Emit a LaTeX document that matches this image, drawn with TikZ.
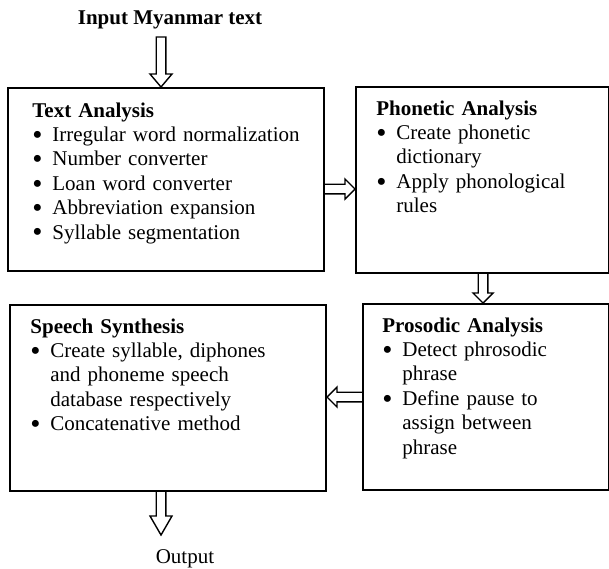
\documentclass[tikz,border=0pt]{standalone}
\usepackage{fontspec}
\setmainfont{Liberation Serif}
\usetikzlibrary{calc}

\hyphenpenalty=10000
\exhyphenpenalty=10000
\newcommand{\head}[1]{\textbf{#1}}
\newcommand{\dotmark}{\raisebox{-1.4pt}[0pt][0pt]{\fontsize{14.5}{12}\selectfont\textbullet}}
\newcommand{\point}[1]{\par\noindent\hangindent=10pt\hangafter=1\makebox[10pt][l]{\dotmark}#1\par}

\begin{document}
\begin{tikzpicture}[x=0.5pt,y=0.5pt,yscale=-1,xscale=1,
  every node/.style={font=\fontsize{10.5}{12.2}\selectfont},
  box/.style={draw, line width=1pt, anchor=north west, inner sep=0pt},
  boxtext/.style={anchor=base west, inner sep=0pt, align=left},
  shaft half/.store in=\shafthalf, shaft half=2.4pt,
  head half/.store in=\headhalf, head half=5pt,
  head len/.store in=\headlen, head len=5pt,
  arrow end/.store in=\arrowend, arrow end=,
  blockarrow/.style={draw, line width=0.7pt, line join=miter, to path={
    ($(\tikztotarget)!\headlen!(\tikztostart)$) coordinate (hb)
    ($(\tikztostart)!\shafthalf!90:(\tikztotarget)$) -- ($(hb)!\shafthalf!90:(\tikztotarget)$)
    -- ($(hb)!\headhalf!90:(\tikztotarget)$) -- (\tikztotarget)
    -- ($(hb)!\headhalf!-90:(\tikztotarget)$) -- ($(hb)!\shafthalf!-90:(\tikztotarget)$)
    -- ($(\tikztostart)!\shafthalf!-90:(\tikztotarget)$) \arrowend}}
]
\useasboundingbox (0,0) rectangle (609,568);

%Shape: Rectangle [Text Analysis]
\node[box, minimum width=158pt, minimum height=91.5pt] (tab) at (7,87) {};
%Shape: Rectangle [Phonetic Analysis]
\node[box, minimum width=126.5pt, minimum height=93pt] (pho) at (355,86) {};
%Shape: Rectangle [Prosodic Analysis]
\node[box, minimum width=123pt, minimum height=93pt] (pro) at (362,303) {};
%Shape: Rectangle [Speech Synthesis]
\node[box, minimum width=158pt, minimum height=93pt] (syn) at (9,304) {};

% Text Node
\node[anchor=base] (title) at (170,24) {\textbf{Input Myanmar text}};
% Text Node
\node[anchor=base] (out) at (185,563) {Output};
% Text Node
\node[boxtext, text width=134pt] (tabText) at (32,117) {\head{Text Analysis}\point{Irregular word normalization}\point{Number converter}\point{Loan word converter}\point{Abbreviation expansion}\point{Syllable segmentation}};
% Text Node
\node[boxtext, text width=107pt] (phoText) at (376,115) {\head{Phonetic Analysis}\point{Create phonetic dictionary}\point{Apply phonological rules}};
% Text Node
\node[boxtext, text width=96.5pt] (proText) at (382,332) {\head{Prosodic Analysis}\point{Detect phrosodic phrase}\point{Define pause to assign between phrase}};
% Text Node
\node[boxtext, text width=127.5pt] (synText) at (30,333) {\head{Speech Synthesis}\point{Create syllable, diphones and phoneme speech database respectively}\point{Concatenative method}};

%Block Arrows
\coordinate (inStart) at (161,37);
\coordinate (outTip) at (161,535);
\draw[blockarrow, head half=5.5pt, head len=6.5pt, arrow end={-- cycle}] (inStart) to (inStart |- tab.north);
\draw[blockarrow] (tab.east |- 0,189) to (pho.west |- 0,189);
\draw[blockarrow] (pho.south -| 483,0) to (pro.north -| 483,0);
\draw[blockarrow] (pro.west) to (pro.west -| syn.east);
\draw[blockarrow, head half=5.5pt, head len=9.5pt] (syn.south -| outTip) to (outTip);

\end{tikzpicture}
\end{document}
